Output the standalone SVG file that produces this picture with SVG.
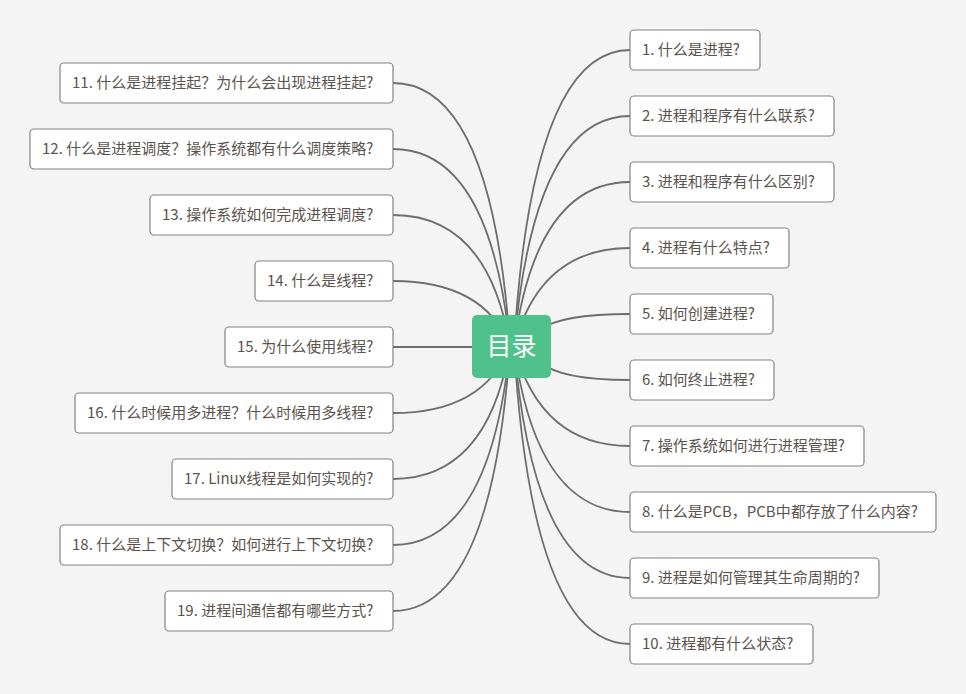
<svg xmlns="http://www.w3.org/2000/svg" width="966" height="694" viewBox="0 0 966 694">
<style>
.bg{fill:#f4f4f4}
.box{fill:#ffffff;stroke:#838383;stroke-width:1.2}
.t{font-family:"Noto Sans CJK SC","Noto Sans",sans-serif;font-size:15px;fill:#5b534c}
.c{fill:none;stroke:#6e6e6e;stroke-width:1.8}
.ct{font-family:"Noto Sans CJK SC",sans-serif;font-size:25px;fill:#ffffff;text-anchor:middle}
</style>
<rect class="bg" width="966" height="694"/>
<g id="connectors">
<path class="c" d="M514 346 Q532 50 630 50"/>
<path class="c" d="M514 346 Q534 116 630 116"/>
<path class="c" d="M514 346 Q536 182 630 182"/>
<path class="c" d="M514 346 Q540 248 630 248"/>
<path class="c" d="M540 330 Q560 314 630 314"/>
<path class="c" d="M540 362 Q560 380 630 380"/>
<path class="c" d="M514 346 Q540 446 630 446"/>
<path class="c" d="M514 346 Q536 512 630 512"/>
<path class="c" d="M514 346 Q534 578 630 578"/>
<path class="c" d="M514 346 Q532 644 630 644"/>
<path class="c" d="M510 346 Q492 83 393 83"/>
<path class="c" d="M510 346 Q490 149 393 149"/>
<path class="c" d="M510 346 Q488 215 393 215"/>
<path class="c" d="M510 346 Q484 281 393 281"/>
<path class="c" d="M393 347 L480 347"/>
<path class="c" d="M510 346 Q484 413 393 413"/>
<path class="c" d="M510 346 Q488 479 393 479"/>
<path class="c" d="M510 346 Q490 545 393 545"/>
<path class="c" d="M510 346 Q492 611 393 611"/>
</g>
<g id="center"><rect x="472" y="315" width="79" height="63" rx="5" fill="#4fc28c"/><text class="ct" x="511.5" y="355">目录</text></g>
<g id="n1"><rect class="box" x="630" y="30" width="130" height="40" rx="4"/><text class="t" x="642" y="55">1. 什么是进程?</text></g>
<g id="n2"><rect class="box" x="630" y="96" width="204" height="40" rx="4"/><text class="t" x="642" y="121">2. 进程和程序有什么联系?</text></g>
<g id="n3"><rect class="box" x="630" y="162" width="204" height="40" rx="4"/><text class="t" x="642" y="187">3. 进程和程序有什么区别?</text></g>
<g id="n4"><rect class="box" x="630" y="228" width="159" height="40" rx="4"/><text class="t" x="642" y="253">4. 进程有什么特点?</text></g>
<g id="n5"><rect class="box" x="630" y="294" width="143" height="40" rx="4"/><text class="t" x="642" y="319">5. 如何创建进程?</text></g>
<g id="n6"><rect class="box" x="630" y="360" width="144" height="40" rx="4"/><text class="t" x="642" y="385">6. 如何终止进程?</text></g>
<g id="n7"><rect class="box" x="630" y="426" width="234" height="40" rx="4"/><text class="t" x="642" y="451">7. 操作系统如何进行进程管理?</text></g>
<g id="n8"><rect class="box" x="630" y="492" width="306" height="40" rx="4"/><text class="t" x="642" y="517">8. 什么是PCB，PCB中都存放了什么内容?</text></g>
<g id="n9"><rect class="box" x="630" y="558" width="249" height="40" rx="4"/><text class="t" x="642" y="583">9. 进程是如何管理其生命周期的?</text></g>
<g id="n10"><rect class="box" x="630" y="624" width="183" height="40" rx="4"/><text class="t" x="642" y="649">10. 进程都有什么状态?</text></g>
<g id="n11"><rect class="box" x="60" y="63" width="333" height="40" rx="4"/><text class="t" x="72" y="88">11. 什么是进程挂起？为什么会出现进程挂起?</text></g>
<g id="n12"><rect class="box" x="30" y="129" width="363" height="40" rx="4"/><text class="t" x="42" y="154">12. 什么是进程调度？操作系统都有什么调度策略?</text></g>
<g id="n13"><rect class="box" x="150" y="195" width="243" height="40" rx="4"/><text class="t" x="162" y="220">13. 操作系统如何完成进程调度?</text></g>
<g id="n14"><rect class="box" x="255" y="261" width="138" height="40" rx="4"/><text class="t" x="267" y="286">14. 什么是线程?</text></g>
<g id="n15"><rect class="box" x="225" y="327" width="168" height="40" rx="4"/><text class="t" x="237" y="352">15. 为什么使用线程?</text></g>
<g id="n16"><rect class="box" x="75" y="393" width="318" height="40" rx="4"/><text class="t" x="87" y="418">16. 什么时候用多进程？什么时候用多线程?</text></g>
<g id="n17"><rect class="box" x="172" y="459" width="221" height="40" rx="4"/><text class="t" x="184" y="484">17. Linux线程是如何实现的?</text></g>
<g id="n18"><rect class="box" x="60" y="525" width="333" height="40" rx="4"/><text class="t" x="72" y="550">18. 什么是上下文切换？如何进行上下文切换?</text></g>
<g id="n19"><rect class="box" x="165" y="591" width="228" height="40" rx="4"/><text class="t" x="177" y="616">19. 进程间通信都有哪些方式?</text></g>
</svg>
